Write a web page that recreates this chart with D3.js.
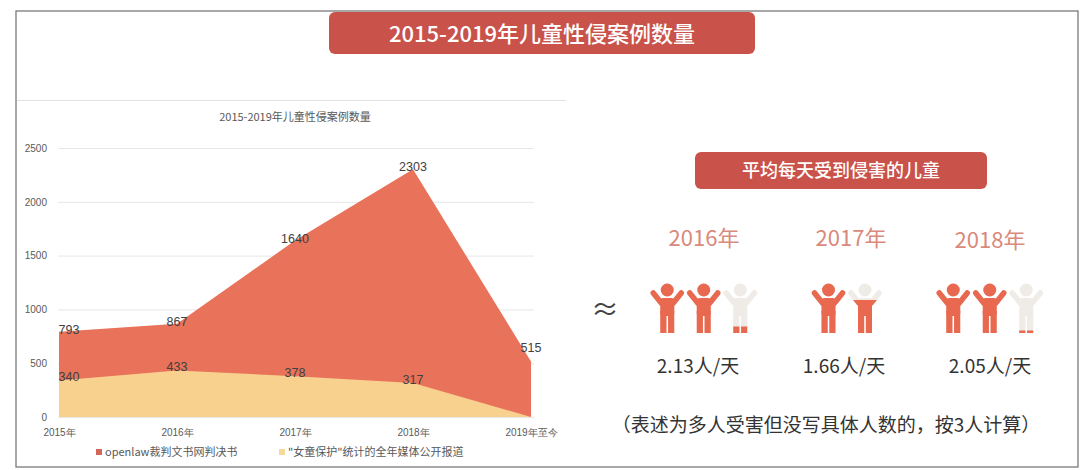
<!DOCTYPE html>
<html>
<head>
<meta charset="utf-8">
<script src="https://cdn.jsdelivr.net/npm/d3@7"></script>
<style>
  html, body { margin: 0; padding: 0; background: #fff; }
  svg { display: block; font-family: "Noto Sans CJK SC", "Noto Sans", sans-serif; }
</style>
</head>
<body>
<svg id="chart" width="1080" height="470"></svg>
<script>
// chart data
var years = ["2015年", "2016年", "2017年", "2018年", "2019年至今"];
var openlaw = [793, 867, 1640, 2303, 515];
var media = [340, 433, 378, 317, 0];
var yTicks = [0, 500, 1000, 1500, 2000, 2500];
var seriesNames = ["openlaw裁判文书网判决书", "\"女童保护\"统计的全年媒体公开报道"];

// per-day panel data
var dayYears = ["2016年", "2017年", "2018年"];
var perDay = [2.13, 1.66, 2.05];

var red = "#E9735A", yellow = "#F9D18F", banner = "#C9524A";

svg = d3.select("#chart");

// outer frame and divider
svg.append("rect")
  .attr("x", 16).attr("y", 11).attr("width", 1062).attr("height", 456)
  .attr("fill", "none").attr("stroke", "#7a7a7a").attr("stroke-width", 1.3);
svg.append("line")
  .attr("x1", 17).attr("x2", 566).attr("y1", 100.5).attr("y2", 100.5)
  .attr("stroke", "#e2e2e2");

// top banner
svg.append("rect")
  .attr("x", 329).attr("y", 12).attr("width", 426).attr("height", 42)
  .attr("rx", 6).attr("fill", banner);
svg.append("text")
  .attr("x", 542).attr("y", 42).attr("text-anchor", "middle")
  .attr("fill", "#fff").attr("font-size", 22).attr("font-weight", 500)
  .text("2015-2019年儿童性侵案例数量");

// ---- area chart ----
xScale = d3.scalePoint().domain(years).range([59, 531]);
yScale = d3.scaleLinear().domain([0, 2500]).range([417, 148]);

svg.append("text")
  .attr("x", 295).attr("y", 121).attr("text-anchor", "middle")
  .attr("fill", "#595959").attr("font-size", 11)
  .text("2015-2019年儿童性侵案例数量");

//gridlines with left labels
laxis = d3.axisLeft(yScale).tickValues(yTicks).tickFormat(d3.format("d"))
  .tickSize(-476).tickPadding(11);
gy = svg.append("g").attr("transform", "translate(58,0)").call(laxis);
gy.select(".domain").remove();
gy.selectAll("line").attr("stroke", "#e6e6e6");
gy.selectAll("text").attr("fill", "#595959").attr("font-size", 10)
  .attr("font-family", "Liberation Sans, sans-serif");

baxis = d3.axisBottom(xScale).tickSize(0).tickPadding(10);
gx = svg.append("g").attr("transform", "translate(0,419)").call(baxis);
gx.select(".domain").remove();
gx.selectAll("text").attr("fill", "#595959").attr("font-size", 10);

myArea = d3.area()
  .x(function (d, i) { return xScale(years[i]); })
  .y0(yScale(0))
  .y1(function (d) { return yScale(d); });

svg.append("path").attr("d", myArea(openlaw)).attr("fill", red);
svg.append("path").attr("d", myArea(media)).attr("fill", yellow);

function labels(data, dyFn) {
  svg.append("g").selectAll("text")
    .data(data.map(function (d, i) { return { v: d, i: i }; }).filter(function (d) { return d.v > 0; }))
    .join("text")
    .attr("x", function (d) { return xScale(years[d.i]) + (d.i === 0 ? 10 : 0); })
    .attr("y", function (d) { return yScale(d.v) + dyFn(d.i); })
    .attr("text-anchor", "middle")
    .attr("fill", "#404040").attr("font-size", 12.5)
    .attr("font-family", "Liberation Sans, sans-serif")
    .text(function (d) { return d.v; });
}
labels(openlaw, function (i) { return i === 4 ? -10 : 2; });
labels(media, function (i) { return 1; });

// legend
var legendX = [96, 279];
var leg = svg.append("g").selectAll("g").data(seriesNames).join("g")
  .attr("transform", function (d, i) { return "translate(" + legendX[i] + ",449)"; });
leg.append("rect").attr("width", 6).attr("height", 6)
  .attr("fill", function (d, i) { return i === 0 ? "#D4675A" : "#F6DA9C"; });
leg.append("text").attr("x", 9).attr("y", 7)
  .attr("fill", "#595959").attr("font-size", 11)
  .text(function (d) { return d; });

// ---- per-day panel ----
svg.append("rect")
  .attr("x", 695).attr("y", 152).attr("width", 292).attr("height", 37)
  .attr("rx", 6).attr("fill", banner);
svg.append("text")
  .attr("x", 841).attr("y", 177).attr("text-anchor", "middle")
  .attr("fill", "#fff").attr("font-size", 18).attr("font-weight", 500)
  .text("平均每天受到侵害的儿童");

groupX = d3.scalePoint().domain(dayYears).range([704, 990]);

svg.append("g").selectAll("text").data(dayYears).join("text")
  .attr("x", function (d) { return groupX(d) + (d === "2017年" ? 4 : 0); })
  .attr("y", function (d, i) { return 246 + (i === 2 ? 2 : 0); })
  .attr("text-anchor", "middle")
  .attr("fill", "#D98A7C").attr("font-size", 22)
  .text(function (d) { return d; });

svg.append("text")
  .attr("x", 605).attr("y", 320).attr("text-anchor", "middle")
  .attr("fill", "#444").attr("font-size", 28).text("≈");

// one child figure, 36 wide x 50 tall
function figure(g, fill) {
  g.append("circle").attr("cx", 18).attr("cy", 7).attr("r", 6.5).attr("fill", fill);
  g.append("path").attr("d", "M12,20 L4,10 M24,20 L32,10")
    .attr("stroke", fill).attr("stroke-width", 5.5).attr("stroke-linecap", "round");
  g.append("rect").attr("x", 11).attr("y", 15).attr("width", 14).attr("height", 18)
    .attr("rx", 3).attr("fill", fill);
  g.append("rect").attr("x", 11).attr("y", 28).attr("width", 6.2).attr("height", 22).attr("fill", fill);
  g.append("rect").attr("x", 18.8).attr("y", 28).attr("width", 6.2).attr("height", 22).attr("fill", fill);
}

var iconTop = 283, iconH = 50, iconW = 36.5;
perDay.forEach(function (v, gi) {
  var n = Math.ceil(v);
  var left = groupX(dayYears[gi]) - n * iconW / 2;
  for (var k = 0; k < n; k++) {
    var frac = Math.max(0, Math.min(1, v - k));
    var g = svg.append("g").attr("transform", "translate(" + (left + k * iconW) + "," + iconTop + ")");
    var id = "clip" + gi + "_" + k;
    g.append("clipPath").attr("id", id).append("rect")
      .attr("x", -2).attr("width", 40)
      .attr("y", iconH * (1 - frac)).attr("height", iconH * frac);
    figure(g.append("g"), "#EFEBE7");
    figure(g.append("g").attr("clip-path", "url(#" + id + ")"), "#E8694F");
  }
});

svg.append("g").selectAll("text").data(perDay).join("text")
  .attr("x", function (d, i) { return groupX(dayYears[i]) - 6 + i * 3; })
  .attr("y", 373).attr("text-anchor", "middle")
  .attr("fill", "#333").attr("font-size", 19)
  .text(function (d) { return d.toFixed(2) + "人/天"; });

svg.append("text")
  .attr("x", 826).attr("y", 432).attr("text-anchor", "middle")
  .attr("fill", "#333").attr("font-size", 19)
  .text("（表述为多人受害但没写具体人数的，按3人计算）");
</script>
</body>
</html>
